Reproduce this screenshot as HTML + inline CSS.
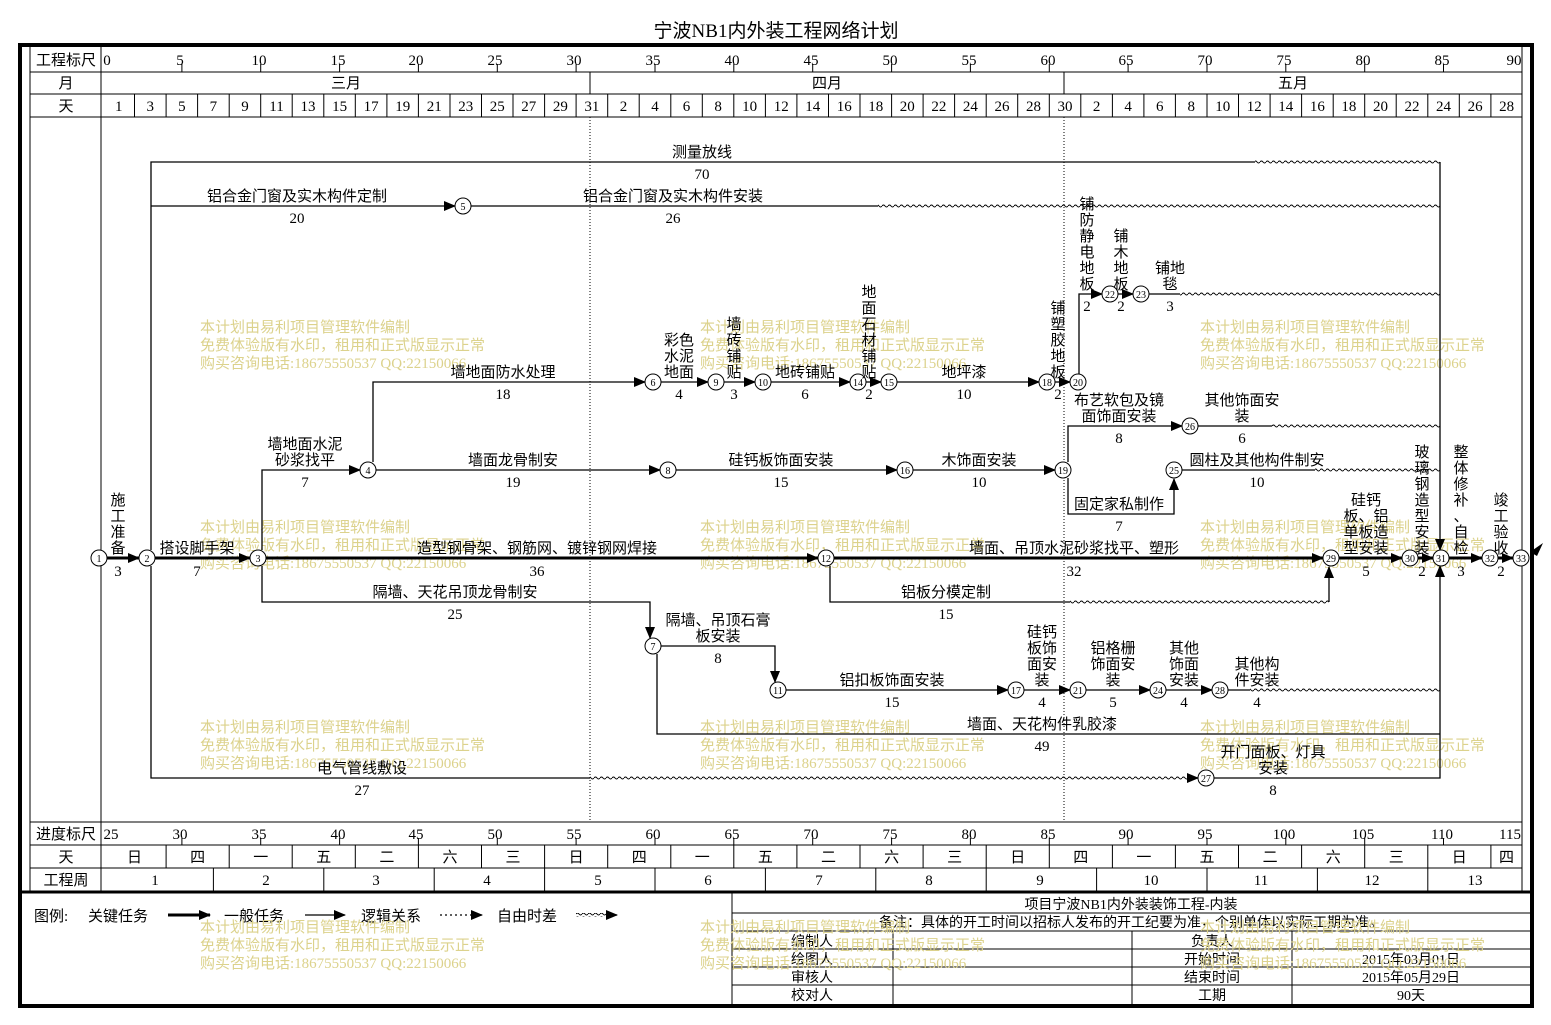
<!DOCTYPE html>
<html><head><meta charset="utf-8"><style>
html,body{margin:0;padding:0;background:#fff;}
svg{display:block;}
text{font-family:"Liberation Serif","Noto Sans CJK SC",serif;font-size:15px;fill:#000;}
.m{text-anchor:middle;}
.n text{font-size:10px;text-anchor:middle;}
.w text{fill:#dcd28c;font-size:15px;}
.ln{stroke:#000;stroke-width:1.3;fill:none;}
.ck{stroke:#000;stroke-width:3;fill:none;}
.g{stroke:#000;stroke-width:1;fill:none;}
.tb text{font-size:14px;}
</style></head><body>
<svg width="1551" height="1025" viewBox="0 0 1551 1025" xmlns="http://www.w3.org/2000/svg">
<defs>
<marker id="a" markerUnits="userSpaceOnUse" markerWidth="12" markerHeight="10" refX="11" refY="5" orient="auto"><path d="M0,0 L12,5 L0,10 Z" fill="#000"/></marker>
<pattern id="wv" width="6" height="4" patternUnits="userSpaceOnUse"><path d="M0,2 Q1.5,0 3,2 T6,2" stroke="#000" stroke-width="1" fill="none"/></pattern>
</defs>
<rect width="1551" height="1025" fill="#fff"/>
<text x="776" y="37" class="m" style="font-size:19px">宁波NB1内外装工程网络计划</text>
<!-- frame -->
<rect x="20" y="45" width="1512" height="961" fill="none" stroke="#000" stroke-width="4"/>
<line x1="30" y1="47" x2="30" y2="891" class="g"/>
<line x1="1522" y1="47" x2="1522" y2="891" class="g"/>
<line x1="101" y1="47" x2="101" y2="891" class="g"/>
<line x1="30" y1="72" x2="1522" y2="72" class="g"/>
<line x1="30" y1="94" x2="1522" y2="94" class="g"/>
<line x1="30" y1="117" x2="1522" y2="117" class="g"/>
<line x1="30" y1="822" x2="1522" y2="822" class="g"/>
<line x1="30" y1="845" x2="1522" y2="845" class="g"/>
<line x1="30" y1="868" x2="1522" y2="868" class="g"/>
<line x1="20" y1="892" x2="1532" y2="892" stroke="#000" stroke-width="3"/>
<line x1="590" y1="72" x2="590" y2="94" class="g"/>
<line x1="1064" y1="72" x2="1064" y2="94" class="g"/>
<line x1="590" y1="117" x2="590" y2="822" stroke="#000" stroke-width="1" stroke-dasharray="1,2"/>
<line x1="1064" y1="117" x2="1064" y2="822" stroke="#000" stroke-width="1" stroke-dasharray="1,2"/>
<text x="66" y="65" class="m">工程标尺</text>
<text x="66" y="88" class="m">月</text>
<text x="66" y="111" class="m">天</text>
<text x="66" y="839" class="m">进度标尺</text>
<text x="66" y="862" class="m">天</text>
<text x="66" y="885" class="m">工程周</text>
<!-- top ruler ticks -->
<g class="g">
<path d="M181.9,64V72M260.7,64V72M339.6,64V72M418.4,64V72M497.3,64V72M576.1,64V72M655,64V72M733.8,64V72M812.7,64V72M891.6,64V72M970.4,64V72M1049.3,64V72M1128.1,64V72M1207,64V72M1285.8,64V72M1364.7,64V72M1443.5,64V72"/>
<path d="M181.9,838V845M260.7,838V845M339.6,838V845M418.4,838V845M497.3,838V845M576.1,838V845M655,838V845M733.8,838V845M812.7,838V845M891.6,838V845M970.4,838V845M1049.3,838V845M1128.1,838V845M1207,838V845M1285.8,838V845M1364.7,838V845M1443.5,838V845"/>
</g>
<g class="m">
<text x="107" y="65">0</text><text x="180" y="65">5</text><text x="259" y="65">10</text><text x="338" y="65">15</text><text x="416" y="65">20</text><text x="495" y="65">25</text><text x="574" y="65">30</text><text x="653" y="65">35</text><text x="732" y="65">40</text><text x="811" y="65">45</text><text x="890" y="65">50</text><text x="969" y="65">55</text><text x="1048" y="65">60</text><text x="1126" y="65">65</text><text x="1205" y="65">70</text><text x="1284" y="65">75</text><text x="1363" y="65">80</text><text x="1442" y="65">85</text><text x="1514" y="65">90</text>
<text x="111" y="839">25</text><text x="180" y="839">30</text><text x="259" y="839">35</text><text x="338" y="839">40</text><text x="416" y="839">45</text><text x="495" y="839">50</text><text x="574" y="839">55</text><text x="653" y="839">60</text><text x="732" y="839">65</text><text x="811" y="839">70</text><text x="890" y="839">75</text><text x="969" y="839">80</text><text x="1048" y="839">85</text><text x="1126" y="839">90</text><text x="1205" y="839">95</text><text x="1284" y="839">100</text><text x="1363" y="839">105</text><text x="1442" y="839">110</text><text x="1510" y="839">115</text>
<text x="346" y="88">三月</text><text x="827" y="88">四月</text><text x="1293" y="88">五月</text>
</g>
<!-- day cells -->
<path class="g" d="M134.5,94V117M166.1,94V117M197.6,94V117M229.2,94V117M260.7,94V117M292.2,94V117M323.8,94V117M355.3,94V117M386.9,94V117M418.4,94V117M450,94V117M481.5,94V117M513,94V117M544.6,94V117M576.1,94V117M607.7,94V117M639.2,94V117M670.8,94V117M702.3,94V117M733.8,94V117M765.4,94V117M796.9,94V117M828.5,94V117M860,94V117M891.6,94V117M923.1,94V117M954.6,94V117M986.2,94V117M1017.7,94V117M1049.3,94V117M1080.8,94V117M1112.4,94V117M1143.9,94V117M1175.4,94V117M1207,94V117M1238.5,94V117M1270.1,94V117M1301.6,94V117M1333.2,94V117M1364.7,94V117M1396.2,94V117M1427.8,94V117M1459.3,94V117M1490.9,94V117"/>
<g class="m">
<text x="118.8" y="111">1</text><text x="150.3" y="111">3</text><text x="181.9" y="111">5</text><text x="213.4" y="111">7</text><text x="245" y="111">9</text><text x="276.5" y="111">11</text><text x="308" y="111">13</text><text x="339.6" y="111">15</text><text x="371.1" y="111">17</text><text x="402.7" y="111">19</text><text x="434.2" y="111">21</text><text x="465.8" y="111">23</text><text x="497.3" y="111">25</text><text x="528.8" y="111">27</text><text x="560.4" y="111">29</text><text x="591.9" y="111">31</text><text x="623.5" y="111">2</text><text x="655" y="111">4</text><text x="686.5" y="111">6</text><text x="718.1" y="111">8</text><text x="749.6" y="111">10</text><text x="781.2" y="111">12</text><text x="812.7" y="111">14</text><text x="844.3" y="111">16</text><text x="875.8" y="111">18</text><text x="907.3" y="111">20</text><text x="938.9" y="111">22</text><text x="970.4" y="111">24</text><text x="1002" y="111">26</text><text x="1033.5" y="111">28</text><text x="1065" y="111">30</text><text x="1096.6" y="111">2</text><text x="1128.1" y="111">4</text><text x="1159.7" y="111">6</text><text x="1191.2" y="111">8</text><text x="1222.8" y="111">10</text><text x="1254.3" y="111">12</text><text x="1285.8" y="111">14</text><text x="1317.4" y="111">16</text><text x="1348.9" y="111">18</text><text x="1380.5" y="111">20</text><text x="1412" y="111">22</text><text x="1443.5" y="111">24</text><text x="1475.1" y="111">26</text><text x="1506.6" y="111">28</text>
</g>
<!-- weekday cells -->
<path class="g" d="M166.1,845V868M229.2,845V868M292.2,845V868M355.3,845V868M418.4,845V868M481.5,845V868M544.6,845V868M607.7,845V868M670.8,845V868M733.8,845V868M796.9,845V868M860,845V868M923.1,845V868M986.2,845V868M1049.3,845V868M1112.4,845V868M1175.4,845V868M1238.5,845V868M1301.6,845V868M1364.7,845V868M1427.8,845V868M1490.9,845V868"/>
<g class="m">
<text x="134.5" y="862">日</text><text x="197.6" y="862">四</text><text x="260.7" y="862">一</text><text x="323.8" y="862">五</text><text x="386.9" y="862">二</text><text x="450" y="862">六</text><text x="513" y="862">三</text><text x="576.1" y="862">日</text><text x="639.2" y="862">四</text><text x="702.3" y="862">一</text><text x="765.4" y="862">五</text><text x="828.5" y="862">二</text><text x="891.6" y="862">六</text><text x="954.6" y="862">三</text><text x="1017.7" y="862">日</text><text x="1080.8" y="862">四</text><text x="1143.9" y="862">一</text><text x="1207" y="862">五</text><text x="1270.1" y="862">二</text><text x="1333.2" y="862">六</text><text x="1396.2" y="862">三</text><text x="1459.3" y="862">日</text><text x="1506.5" y="862">四</text>
</g>
<path class="g" d="M213.4,868V891M323.8,868V891M434.2,868V891M544.6,868V891M655,868V891M765.4,868V891M875.8,868V891M986.2,868V891M1096.6,868V891M1207,868V891M1317.4,868V891M1427.8,868V891"/>
<g class="m">
<text x="155" y="885">1</text><text x="266" y="885">2</text><text x="376" y="885">3</text><text x="487" y="885">4</text><text x="598" y="885">5</text><text x="708" y="885">6</text><text x="819" y="885">7</text><text x="929" y="885">8</text><text x="1040" y="885">9</text><text x="1151" y="885">10</text><text x="1261" y="885">11</text><text x="1372" y="885">12</text><text x="1475" y="885">13</text>
</g>

<!-- watermarks -->
<g class="w">
<text x="200" y="332">本计划由易利项目管理软件编制</text><text x="200" y="350">免费体验版有水印，租用和正式版显示正常</text><text x="200" y="368">购买咨询电话:18675550537 QQ:22150066</text>
<text x="700" y="332">本计划由易利项目管理软件编制</text><text x="700" y="350">免费体验版有水印，租用和正式版显示正常</text><text x="700" y="368">购买咨询电话:18675550537 QQ:22150066</text>
<text x="1200" y="332">本计划由易利项目管理软件编制</text><text x="1200" y="350">免费体验版有水印，租用和正式版显示正常</text><text x="1200" y="368">购买咨询电话:18675550537 QQ:22150066</text>
<text x="200" y="532">本计划由易利项目管理软件编制</text><text x="200" y="550">免费体验版有水印，租用和正式版显示正常</text><text x="200" y="568">购买咨询电话:18675550537 QQ:22150066</text>
<text x="700" y="532">本计划由易利项目管理软件编制</text><text x="700" y="550">免费体验版有水印，租用和正式版显示正常</text><text x="700" y="568">购买咨询电话:18675550537 QQ:22150066</text>
<text x="1200" y="532">本计划由易利项目管理软件编制</text><text x="1200" y="550">免费体验版有水印，租用和正式版显示正常</text><text x="1200" y="568">购买咨询电话:18675550537 QQ:22150066</text>
<text x="200" y="732">本计划由易利项目管理软件编制</text><text x="200" y="750">免费体验版有水印，租用和正式版显示正常</text><text x="200" y="768">购买咨询电话:18675550537 QQ:22150066</text>
<text x="700" y="732">本计划由易利项目管理软件编制</text><text x="700" y="750">免费体验版有水印，租用和正式版显示正常</text><text x="700" y="768">购买咨询电话:18675550537 QQ:22150066</text>
<text x="1200" y="732">本计划由易利项目管理软件编制</text><text x="1200" y="750">免费体验版有水印，租用和正式版显示正常</text><text x="1200" y="768">购买咨询电话:18675550537 QQ:22150066</text>
</g>

<!-- edges -->
<g class="ln">
<path d="M151,550V162H1255"/>
<path d="M1440,162V550" marker-end="url(#a)"/>
<path d="M151,206H455" marker-end="url(#a)"/>
<path d="M471,206H878"/>
<path d="M151,566V778H590"/>
<path d="M1190,778H1198" marker-end="url(#a)"/>
<path d="M1214,778H1440V566" marker-end="url(#a)"/>
<path d="M262,550V470H360" marker-end="url(#a)"/>
<path d="M373,462V382H645" marker-end="url(#a)"/>
<path d="M661,382H708" marker-end="url(#a)"/>
<path d="M724,382H755" marker-end="url(#a)"/>
<path d="M771,382H850" marker-end="url(#a)"/>
<path d="M866,382H881" marker-end="url(#a)"/>
<path d="M897,382H1039" marker-end="url(#a)"/>
<path d="M1055,382H1070" marker-end="url(#a)"/>
<path d="M1079,374V294H1102" marker-end="url(#a)"/>
<path d="M1118,294H1133" marker-end="url(#a)"/>
<path d="M1149,294H1180"/>
<path d="M376,470H660" marker-end="url(#a)"/>
<path d="M676,470H897" marker-end="url(#a)"/>
<path d="M913,470H1055" marker-end="url(#a)"/>
<path d="M1068,462V426H1182" marker-end="url(#a)"/>
<path d="M1198,426H1272"/>
<path d="M1068,478V514H1174V479" marker-end="url(#a)"/>
<path d="M1182,470H1315"/>
<path d="M262,566V602H650V638" marker-end="url(#a)"/>
<path d="M830,566V602H1070"/>
<path d="M1329,602V567" marker-end="url(#a)"/>
<path d="M661,646H775V682" marker-end="url(#a)"/>
<path d="M786,690H1008" marker-end="url(#a)"/>
<path d="M1024,690H1070" marker-end="url(#a)"/>
<path d="M1086,690H1150" marker-end="url(#a)"/>
<path d="M1166,690H1212" marker-end="url(#a)"/>
<path d="M1228,690H1250"/>
<path d="M657,654V734H1440"/>
</g>
<!-- wavy free float -->
<rect x="1255" y="160" width="185" height="4" fill="url(#wv)"/>
<rect x="878" y="204" width="562" height="4" fill="url(#wv)"/>
<rect x="1180" y="292" width="260" height="4" fill="url(#wv)"/>
<rect x="1272" y="424" width="168" height="4" fill="url(#wv)"/>
<rect x="1315" y="468" width="125" height="4" fill="url(#wv)"/>
<rect x="1070" y="600" width="259" height="4" fill="url(#wv)"/>
<rect x="1250" y="688" width="190" height="4" fill="url(#wv)"/>
<rect x="590" y="776" width="600" height="4" fill="url(#wv)"/>
<!-- critical -->
<g class="ck">
<path d="M107,558H139" marker-end="url(#a)"/>
<path d="M155,558H250" marker-end="url(#a)"/>
<path d="M266,558H818" marker-end="url(#a)"/>
<path d="M834,558H1323" marker-end="url(#a)"/>
<path d="M1339,558H1402" marker-end="url(#a)"/>
<path d="M1418,558H1433" marker-end="url(#a)"/>
<path d="M1449,558H1482" marker-end="url(#a)"/>
<path d="M1498,558H1513" marker-end="url(#a)"/>
</g>
<path d="M1530,552L1543,543L1537,556Z" fill="#000"/>
<!-- nodes -->
<g fill="#fff" stroke="#000" stroke-width="1">
<circle cx="99" cy="558" r="8"/><circle cx="147" cy="558" r="8"/><circle cx="258" cy="558" r="8"/><circle cx="368" cy="470" r="8"/><circle cx="463" cy="206" r="8"/><circle cx="653" cy="382" r="8"/><circle cx="653" cy="646" r="8"/><circle cx="668" cy="470" r="8"/><circle cx="716" cy="382" r="8"/><circle cx="763" cy="382" r="8"/><circle cx="778" cy="690" r="8"/><circle cx="826" cy="558" r="8"/><circle cx="858" cy="382" r="8"/><circle cx="889" cy="382" r="8"/><circle cx="905" cy="470" r="8"/><circle cx="1016" cy="690" r="8"/><circle cx="1047" cy="382" r="8"/><circle cx="1063" cy="470" r="8"/><circle cx="1078" cy="382" r="8"/><circle cx="1078" cy="690" r="8"/><circle cx="1110" cy="294" r="8"/><circle cx="1141" cy="294" r="8"/><circle cx="1158" cy="690" r="8"/><circle cx="1174" cy="470" r="8"/><circle cx="1190" cy="426" r="8"/><circle cx="1206" cy="778" r="8"/><circle cx="1220" cy="690" r="8"/><circle cx="1331" cy="558" r="8"/><circle cx="1410" cy="558" r="8"/><circle cx="1441" cy="558" r="8"/><circle cx="1490" cy="558" r="8"/><circle cx="1521" cy="558" r="8"/>
</g>
<g class="n">
<text x="99" y="562">1</text><text x="147" y="562">2</text><text x="258" y="562">3</text><text x="368" y="474">4</text><text x="463" y="210">5</text><text x="653" y="386">6</text><text x="653" y="650">7</text><text x="668" y="474">8</text><text x="716" y="386">9</text><text x="763" y="386">10</text><text x="778" y="694">11</text><text x="826" y="562">12</text><text x="858" y="386">14</text><text x="889" y="386">15</text><text x="905" y="474">16</text><text x="1016" y="694">17</text><text x="1047" y="386">18</text><text x="1063" y="474">19</text><text x="1078" y="386">20</text><text x="1078" y="694">21</text><text x="1110" y="298">22</text><text x="1141" y="298">23</text><text x="1158" y="694">24</text><text x="1174" y="474">25</text><text x="1190" y="430">26</text><text x="1206" y="782">27</text><text x="1220" y="694">28</text><text x="1331" y="562">29</text><text x="1410" y="562">30</text><text x="1441" y="562">31</text><text x="1490" y="562">32</text><text x="1521" y="562">33</text>
</g>
<!-- labels -->
<g class="m">
<text x="702" y="157">测量放线</text><text x="702" y="179">70</text>
<text x="297" y="201">铝合金门窗及实木构件定制</text><text x="297" y="223">20</text>
<text x="673" y="201">铝合金门窗及实木构件安装</text><text x="673" y="223">26</text>
<text x="1087" y="209"><tspan x="1087">铺</tspan><tspan x="1087" dy="16">防</tspan><tspan x="1087" dy="16">静</tspan><tspan x="1087" dy="16">电</tspan><tspan x="1087" dy="16">地</tspan><tspan x="1087" dy="16">板</tspan></text><text x="1087" y="311">2</text>
<text x="1121" y="241"><tspan x="1121">铺</tspan><tspan x="1121" dy="16">木</tspan><tspan x="1121" dy="16">地</tspan><tspan x="1121" dy="16">板</tspan></text><text x="1121" y="311">2</text>
<text x="1170" y="273">铺地</text><text x="1170" y="289">毯</text><text x="1170" y="311">3</text>
<text x="869" y="297"><tspan x="869">地</tspan><tspan x="869" dy="16">面</tspan><tspan x="869" dy="16">石</tspan><tspan x="869" dy="16">材</tspan><tspan x="869" dy="16">铺</tspan><tspan x="869" dy="16">贴</tspan></text><text x="869" y="399">2</text>
<text x="734" y="329"><tspan x="734">墙</tspan><tspan x="734" dy="16">砖</tspan><tspan x="734" dy="16">铺</tspan><tspan x="734" dy="16">贴</tspan></text><text x="734" y="399">3</text>
<text x="679" y="345">彩色</text><text x="679" y="361">水泥</text><text x="679" y="377">地面</text><text x="679" y="399">4</text>
<text x="503" y="377">墙地面防水处理</text><text x="503" y="399">18</text>
<text x="805" y="377">地砖铺贴</text><text x="805" y="399">6</text>
<text x="964" y="377">地坪漆</text><text x="964" y="399">10</text>
<text x="1058" y="313"><tspan x="1058">铺</tspan><tspan x="1058" dy="16">塑</tspan><tspan x="1058" dy="16">胶</tspan><tspan x="1058" dy="16">地</tspan><tspan x="1058" dy="16">板</tspan></text><text x="1058" y="399">2</text>
<text x="1119" y="405">布艺软包及镜</text><text x="1119" y="421">面饰面安装</text><text x="1119" y="443">8</text>
<text x="1242" y="405">其他饰面安</text><text x="1242" y="421">装</text><text x="1242" y="443">6</text>
<text x="305" y="449">墙地面水泥</text><text x="305" y="465">砂浆找平</text><text x="305" y="487">7</text>
<text x="513" y="465">墙面龙骨制安</text><text x="513" y="487">19</text>
<text x="781" y="465">硅钙板饰面安装</text><text x="781" y="487">15</text>
<text x="979" y="465">木饰面安装</text><text x="979" y="487">10</text>
<text x="1257" y="465">圆柱及其他构件制安</text><text x="1257" y="487">10</text>
<text x="1119" y="509">固定家私制作</text><text x="1119" y="531">7</text>
<text x="118" y="505"><tspan x="118">施</tspan><tspan x="118" dy="16">工</tspan><tspan x="118" dy="16">准</tspan><tspan x="118" dy="16">备</tspan></text><text x="118" y="576">3</text>
<text x="197" y="553">搭设脚手架</text><text x="197" y="576">7</text>
<text x="537" y="553">造型钢骨架、钢筋网、镀锌钢网焊接</text><text x="537" y="576">36</text>
<text x="1074" y="553">墙面、吊顶水泥砂浆找平、塑形</text><text x="1074" y="576">32</text>
<text x="1366" y="505">硅钙</text><text x="1366" y="521">板、铝</text><text x="1366" y="537">单板造</text><text x="1366" y="553">型安装</text><text x="1366" y="576">5</text>
<text x="1422" y="457"><tspan x="1422">玻</tspan><tspan x="1422" dy="16">璃</tspan><tspan x="1422" dy="16">钢</tspan><tspan x="1422" dy="16">造</tspan><tspan x="1422" dy="16">型</tspan><tspan x="1422" dy="16">安</tspan><tspan x="1422" dy="16">装</tspan></text><text x="1422" y="576">2</text>
<text x="1461" y="457"><tspan x="1461">整</tspan><tspan x="1461" dy="16">体</tspan><tspan x="1461" dy="16">修</tspan><tspan x="1461" dy="16">补</tspan><tspan x="1461" dy="16">、</tspan><tspan x="1461" dy="16">自</tspan><tspan x="1461" dy="16">检</tspan></text><text x="1461" y="576">3</text>
<text x="1501" y="505"><tspan x="1501">竣</tspan><tspan x="1501" dy="16">工</tspan><tspan x="1501" dy="16">验</tspan><tspan x="1501" dy="16">收</tspan></text><text x="1501" y="576">2</text>
<text x="455" y="597">隔墙、天花吊顶龙骨制安</text><text x="455" y="619">25</text>
<text x="946" y="597">铝板分模定制</text><text x="946" y="619">15</text>
<text x="718" y="625">隔墙、吊顶石膏</text><text x="718" y="641">板安装</text><text x="718" y="663">8</text>
<text x="892" y="685">铝扣板饰面安装</text><text x="892" y="707">15</text>
<text x="1042" y="637">硅钙</text><text x="1042" y="653">板饰</text><text x="1042" y="669">面安</text><text x="1042" y="685">装</text><text x="1042" y="707">4</text>
<text x="1113" y="653">铝格栅</text><text x="1113" y="669">饰面安</text><text x="1113" y="685">装</text><text x="1113" y="707">5</text>
<text x="1184" y="653">其他</text><text x="1184" y="669">饰面</text><text x="1184" y="685">安装</text><text x="1184" y="707">4</text>
<text x="1257" y="669">其他构</text><text x="1257" y="685">件安装</text><text x="1257" y="707">4</text>
<text x="1042" y="729">墙面、天花构件乳胶漆</text><text x="1042" y="751">49</text>
<text x="362" y="773">电气管线敷设</text><text x="362" y="795">27</text>
<text x="1273" y="757">开门面板、灯具</text><text x="1273" y="773">安装</text><text x="1273" y="795">8</text>
</g>

<!-- legend -->
<text x="34" y="921">图例:</text>
<text x="88" y="921">关键任务</text>
<path d="M168,915H210" class="ck" marker-end="url(#a)"/>
<text x="224" y="921">一般任务</text>
<path d="M305,915H345" class="ln" marker-end="url(#a)"/>
<text x="361" y="921">逻辑关系</text>
<path d="M440,915H482" stroke="#000" stroke-width="1.3" stroke-dasharray="2,3" fill="none" marker-end="url(#a)"/>
<text x="497" y="921">自由时差</text>
<rect x="576" y="913" width="30" height="4" fill="url(#wv)"/>
<path d="M606,915H617" class="ln" marker-end="url(#a)"/>

<!-- info table -->
<g class="g">
<line x1="732" y1="892" x2="732" y2="1006"/>
<line x1="732" y1="913" x2="1531" y2="913"/>
<line x1="732" y1="931" x2="1531" y2="931"/>
<line x1="732" y1="949" x2="1531" y2="949"/>
<line x1="732" y1="967" x2="1531" y2="967"/>
<line x1="732" y1="985" x2="1531" y2="985"/>
<line x1="893" y1="931" x2="893" y2="1004"/>
<line x1="1132" y1="931" x2="1132" y2="1004"/>
<line x1="1292" y1="931" x2="1292" y2="1004"/>
</g>
<g class="m tb">
<text x="1131" y="909">项目宁波NB1内外装装饰工程-内装</text>
<text x="1131" y="927">备注：具体的开工时间以招标人发布的开工纪要为准，个别单体以实际工期为准。</text>
<text x="812" y="946">编制人</text><text x="1212" y="946">负责人</text>
<text x="812" y="964">绘图人</text><text x="1212" y="964">开始时间</text><text x="1411" y="964">2015年03月01日</text>
<text x="812" y="982">审核人</text><text x="1212" y="982">结束时间</text><text x="1411" y="982">2015年05月29日</text>
<text x="812" y="1000">校对人</text><text x="1212" y="1000">工期</text><text x="1411" y="1000">90天</text>
</g>
<g class="w">
<text x="200" y="932">本计划由易利项目管理软件编制</text><text x="200" y="950">免费体验版有水印，租用和正式版显示正常</text><text x="200" y="968">购买咨询电话:18675550537 QQ:22150066</text>
<text x="700" y="932">本计划由易利项目管理软件编制</text><text x="700" y="950">免费体验版有水印，租用和正式版显示正常</text><text x="700" y="968">购买咨询电话:18675550537 QQ:22150066</text>
<text x="1200" y="932">本计划由易利项目管理软件编制</text><text x="1200" y="950">免费体验版有水印，租用和正式版显示正常</text><text x="1200" y="968">购买咨询电话:18675550537 QQ:22150066</text>
</g>
</svg>
</body></html>
